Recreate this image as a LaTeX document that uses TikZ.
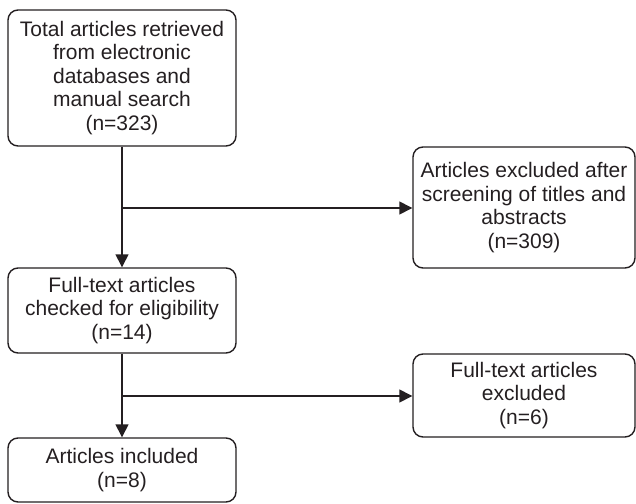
\documentclass[tikz,border=0pt]{standalone}
\usepackage{fontspec}
\setmainfont{Liberation Sans}
\usepackage{tikz}
\usetikzlibrary{arrows.meta}
\usetikzlibrary{positioning, calc}
\definecolor{ink}{rgb}{0.14,0.12,0.13}

\begin{document}
\begin{tikzpicture}[x=1pt, y=-1pt,
    box/.style={draw=ink, text=ink, line width=1.4pt, rounded corners=10pt,
        align=center, inner sep=0pt, font=\fontsize{21}{23.5}\selectfont},
    flow/.style={draw=ink, line width=1.4pt, -{Triangle[length=13pt, width=13pt]}}]
    \useasboundingbox (0,0) rectangle (636,503);
    
    % left column
    \node[box, minimum width=228pt, minimum height=136pt] (total) at (122,78)
        {Total articles retrieved\\from electronic\\databases and\\manual search\\(n=323)};
    \node[box, minimum width=228pt, minimum height=85pt] (fulltext) at (122,310.5)
        {Full-text articles\\checked for eligibility\\(n=14)};
    \node[box, minimum width=228pt, minimum height=64pt] (included) at (122,470)
        {Articles included\\(n=8)};
    
    % right column
    \node[box, minimum width=222pt, minimum height=121pt] (screened) at (524,207.5)
        {Articles excluded after\\screening of titles and\\abstracts\\(n=309)};
    \node[box, minimum width=222pt, minimum height=83pt] (ftexcluded) at (524,395.5)
        {Full-text articles\\excluded\\(n=6)};
    
    \coordinate (split1) at (122,208);
    \coordinate (split2) at (122,396);
    
    \draw[flow] (total) -- (fulltext);
    \draw[flow] (fulltext) -- (included);
    \draw[flow] (split1) -- (split1 -| screened.west);
    \draw[flow] (split2) -- (split2 -| ftexcluded.west);
    
\end{tikzpicture}
\end{document}
